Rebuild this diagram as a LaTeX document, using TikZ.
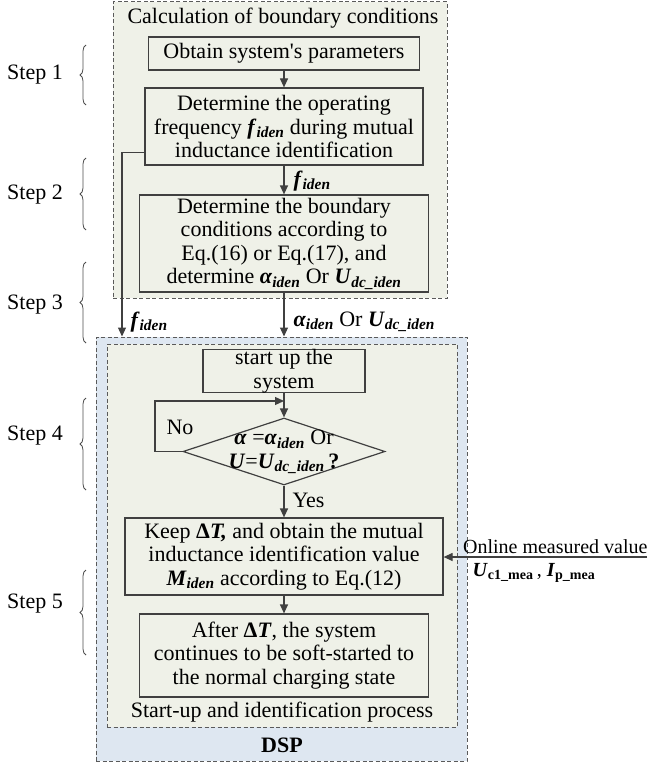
\documentclass[tikz,border=0pt]{standalone}
\usepackage{fontspec}
\setmainfont{Liberation Serif}[Ligatures=TeXOff]
\usetikzlibrary{shapes.geometric,arrows.meta,decorations.pathreplacing,calc}

\definecolor{grn}{HTML}{EFF1E8}
\definecolor{blu}{HTML}{DEE7F1}
\definecolor{lin}{HTML}{404040}
\definecolor{dsh}{HTML}{5A5A5A}

\newcommand{\bi}[1]{\textbf{\textit{#1}}}
\newcommand{\sbi}[1]{\textsubscript{\textbf{\textit{#1}}}}
\newcommand{\sbf}[1]{\textsubscript{\textbf{#1}}}

\begin{document}
\begin{tikzpicture}[x=1pt,y=-1pt,
  every node/.style={font=\fontsize{22}{23.5}\selectfont, text=black},
  pbox/.style={draw=lin, fill=grn, line width=1.2pt, align=center, inner sep=0pt},
  cont/.style={draw=dsh, dash pattern=on 4pt off 2.5pt, line width=1pt, inner sep=0pt},
  arr/.style={draw=lin, line width=1.2pt, -{Triangle[length=9pt,width=8pt]}},
  brc/.style={draw=black!70, line width=0.8pt, decorate, decoration={brace, amplitude=6pt}},
]
\useasboundingbox (0,0) rectangle (651,765);

% containers
\node[cont, fill=grn, minimum width=334, minimum height=296] (calc) at (280,150) {};
\node[cont, fill=blu, minimum width=371, minimum height=424] (dsp) at (281.5,549) {};
\node[cont, fill=grn, minimum width=350, minimum height=383] (proc) at (282,535.5) {};

\node (ctitle) at (283,18) {Calculation of boundary conditions};
\node (ptitle) at (282,712) {Start-up and identification process};
\node (dsptitle) at (282,745) {\textbf{DSP}};

% boxes
\node[pbox, minimum width=271, minimum height=33] (b1) at (284,53.5) {Obtain system's parameters};
\node[pbox, minimum width=278, minimum height=77] (b2) at (284,126.5) {Determine the operating\\frequency \bi{f}\sbi{iden} during mutual\\inductance identification};
\node[pbox, minimum width=289, minimum height=97] (b3) at (284,243.5) {Determine the boundary\\conditions according to\\Eq.(16) or Eq.(17), and\\determine \bi{α}\sbi{iden} Or \bi{U}\sbi{dc\_iden}};

\node[pbox, minimum width=162, minimum height=42] (st) at (284,371) {start up the\\system};
\node[draw=lin, fill=grn, line width=1.2pt, diamond, minimum width=202, minimum height=67, inner sep=0pt] (dia) at (284,451.5) {};
\node[align=center] (diat) at (284,452) {\bi{α} =\bi{α}\sbi{iden} Or\\\bi{U}=\bi{U}\sbi{dc\_iden}\,\textbf{?}};

\node[pbox, minimum width=318, minimum height=77] (keep) at (284,556.5) {Keep \textbf{Δ}\bi{T,} and obtain the mutual\\inductance identification value\\\bi{M}\sbi{iden} according to Eq.(12)};
\node[pbox, minimum width=289, minimum height=83] (after) at (284,655.5) {After \textbf{Δ}\bi{T}, the system\\continues to be soft-started to\\the normal charging state};

% labels
\node[anchor=west] (lf1) at (290,181) {\bi{f}\sbi{iden}};
\node[anchor=west] (lf2) at (127,322) {\bi{f}\sbi{iden}};
\node[anchor=west] (la) at (290,322) {\bi{α}\sbi{iden} Or \bi{U}\sbi{dc\_iden}};
\node (no) at (180,427) {No};
\node[anchor=west] (yes) at (289,500) {Yes};
\node[anchor=east, font=\fontsize{20}{23}\selectfont] (ont) at (651,547) {Online measured value};
\node[font=\fontsize{20}{23}\selectfont] (onu) at (534,573) {\bi{U}\sbf{c1\_mea}\,, \bi{I}\sbf{p\_mea}};

% steps
\node (s1) at (35,75) {Step 1};
\node (s2) at (35,195) {Step 2};
\node (s3) at (35,305) {Step 3};
\node (s4) at (35,436) {Step 4};
\node (s5) at (35,604) {Step 5};
\draw[brc] (86,105) -- (86,45);
\draw[brc] (86,230) -- (86,158);
\draw[brc] (86,343) -- (86,262);
\draw[brc] (86,490) -- (86,398);
\draw[brc] (86,655) -- (86,570);

% connectors
\coordinate (fl) at (122,0);
\coordinate (nl) at (155,401);
\coordinate (onl) at (647,557);
\draw[arr] (b1) -- (b2);
\draw[arr] (b2) -- (b3);
\draw[arr] ([yshift=13pt]b2.south west) -| (fl |- dsp.north);
\draw[arr] (b3.south) -- (b3.south |- dsp.north);
\draw[arr] (st) -- (dia);
\draw[arr] (dia.west) -| (nl) -- (nl -| dia.north);
\draw[arr] (dia.south) -- (keep.north);
\draw[arr] (keep) -- (after);
\draw[arr] (onl) -- (onl -| keep.east);
\end{tikzpicture}
\end{document}
